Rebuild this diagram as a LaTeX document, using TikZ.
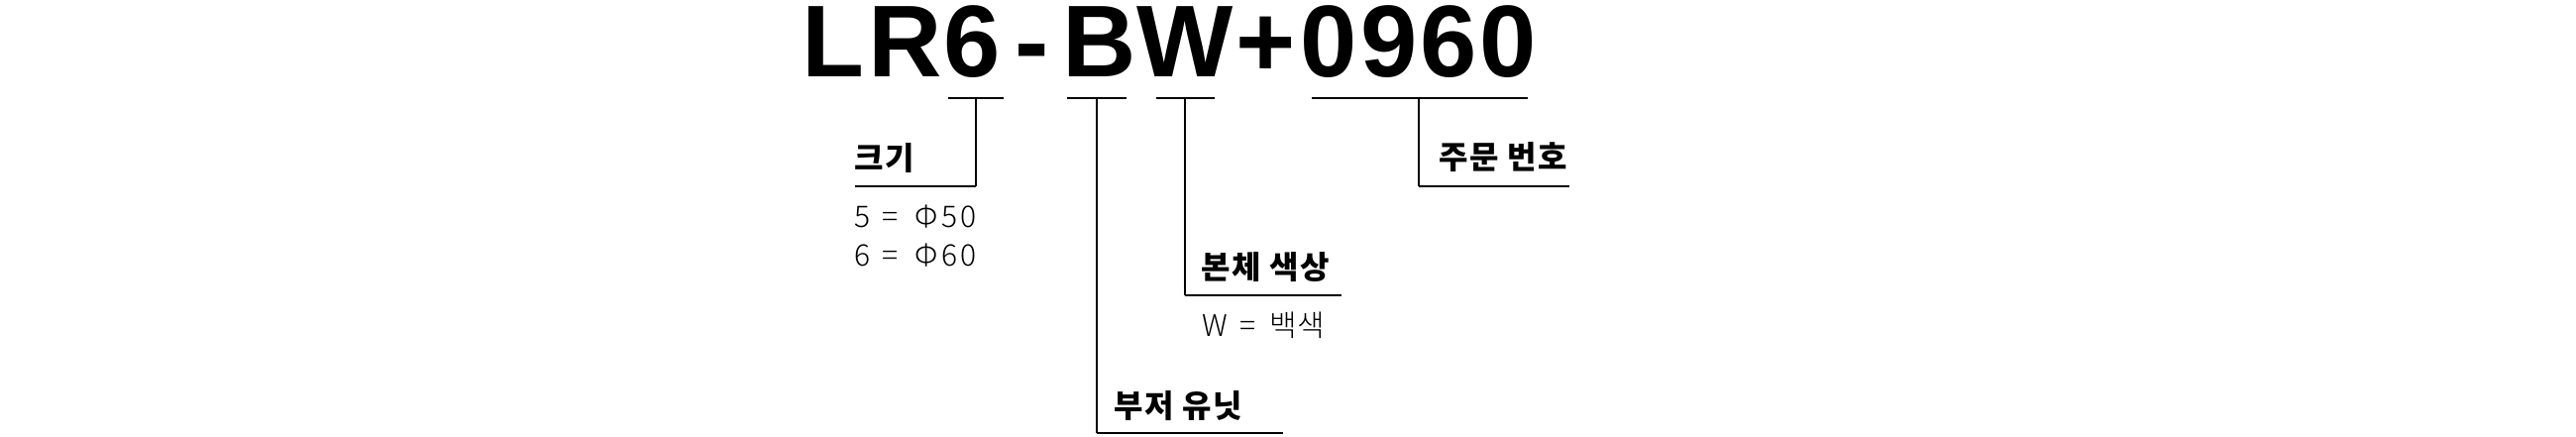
\documentclass[tikz,border=0pt]{standalone}
\usepackage{fontspec}
\setmainfont{Liberation Sans}
\newfontfamily\titlefont{Liberation Sans}
\newfontfamily\krfont[LetterSpace=5]{Noto Sans CJK KR}
\IfFontExistsTF{Noto Sans CJK KR Light}
  {\newfontfamily\krlight[LetterSpace=12]{Noto Sans CJK KR Light}
   \newfontfamily\krlighttight{Noto Sans CJK KR Light}}
  {\newfontfamily\krlight[LetterSpace=12]{Noto Sans CJK KR}
   \newfontfamily\krlighttight{Noto Sans CJK KR}}
\newcommand{\eqgap}[2]{#1\hspace{2.5pt} = \hspace{#2}}
\begin{document}
\begin{tikzpicture}[x=1pt,y=-1pt,
  bar/.style={line width=2pt},
  conn/.style={line width=1.5pt},
  lab/.style={inner sep=0pt, anchor=base west, font=\krfont\bfseries\fontsize{32}{36}\selectfont},
  val/.style={inner sep=0pt, anchor=base west, font=\krlight\fontsize{30}{36}\selectfont},
  ttl/.style={inner sep=0pt, anchor=base west, font=\titlefont\bfseries\fontsize{103}{110}\selectfont}]
\useasboundingbox (0,0) rectangle (2600,440);
% title
\node[ttl] (title) at (809,77) {L\kern4pt R\kern2pt 6\kern15pt -\kern13pt B\kern1pt W\kern3pt +\kern5pt 0\kern3pt 9\kern3pt 6\kern3pt 0};
% bars under the code parts
\coordinate (b1) at (985,99);
\coordinate (b2) at (1107,99);
\coordinate (b3) at (1196,99);
\coordinate (b4) at (1432,99);
\draw[bar] (957,99) -- (1013,99);
\draw[bar] (1077,99) -- (1137,99);
\draw[bar] (1167,99) -- (1226,99);
\draw[bar] (1324,99) -- (1542,99);
% labels
\node[lab] (size) at (862,171) {크기};
\node[val] (size5) at (862,229) {\eqgap{5}{6pt}Φ50};
\node[val] (size6) at (862,268) {\eqgap{6}{6pt}Φ60};
\node[lab] (color) at (1212,281) {본체 색상};
\node[val] (colorw) at (1213,339) {\eqgap{W}{4pt}{\krlighttight 백색}};
\node[lab] (buzzer) at (1124,421) {부저 유닛};
\node[lab] (order) at (1452,170) {주문 번호};
% line ends
\coordinate (size-l) at (863,188);
\coordinate (color-r) at (1354,298);
\coordinate (buzzer-r) at (1295,437);
\coordinate (order-r) at (1584,188);
% connectors
\draw[conn] (b1) -- (b1 |- size-l);
\draw[bar] (b1 |- size-l) -- (size-l);
\draw[conn] (b2) -- (b2 |- buzzer-r);
\draw[bar] (b2 |- buzzer-r) -- (buzzer-r);
\draw[conn] (b3) -- (b3 |- color-r);
\draw[bar] (b3 |- color-r) -- (color-r);
\draw[conn] (b4) -- (b4 |- order-r);
\draw[bar] (b4 |- order-r) -- (order-r);
\end{tikzpicture}
\end{document}
